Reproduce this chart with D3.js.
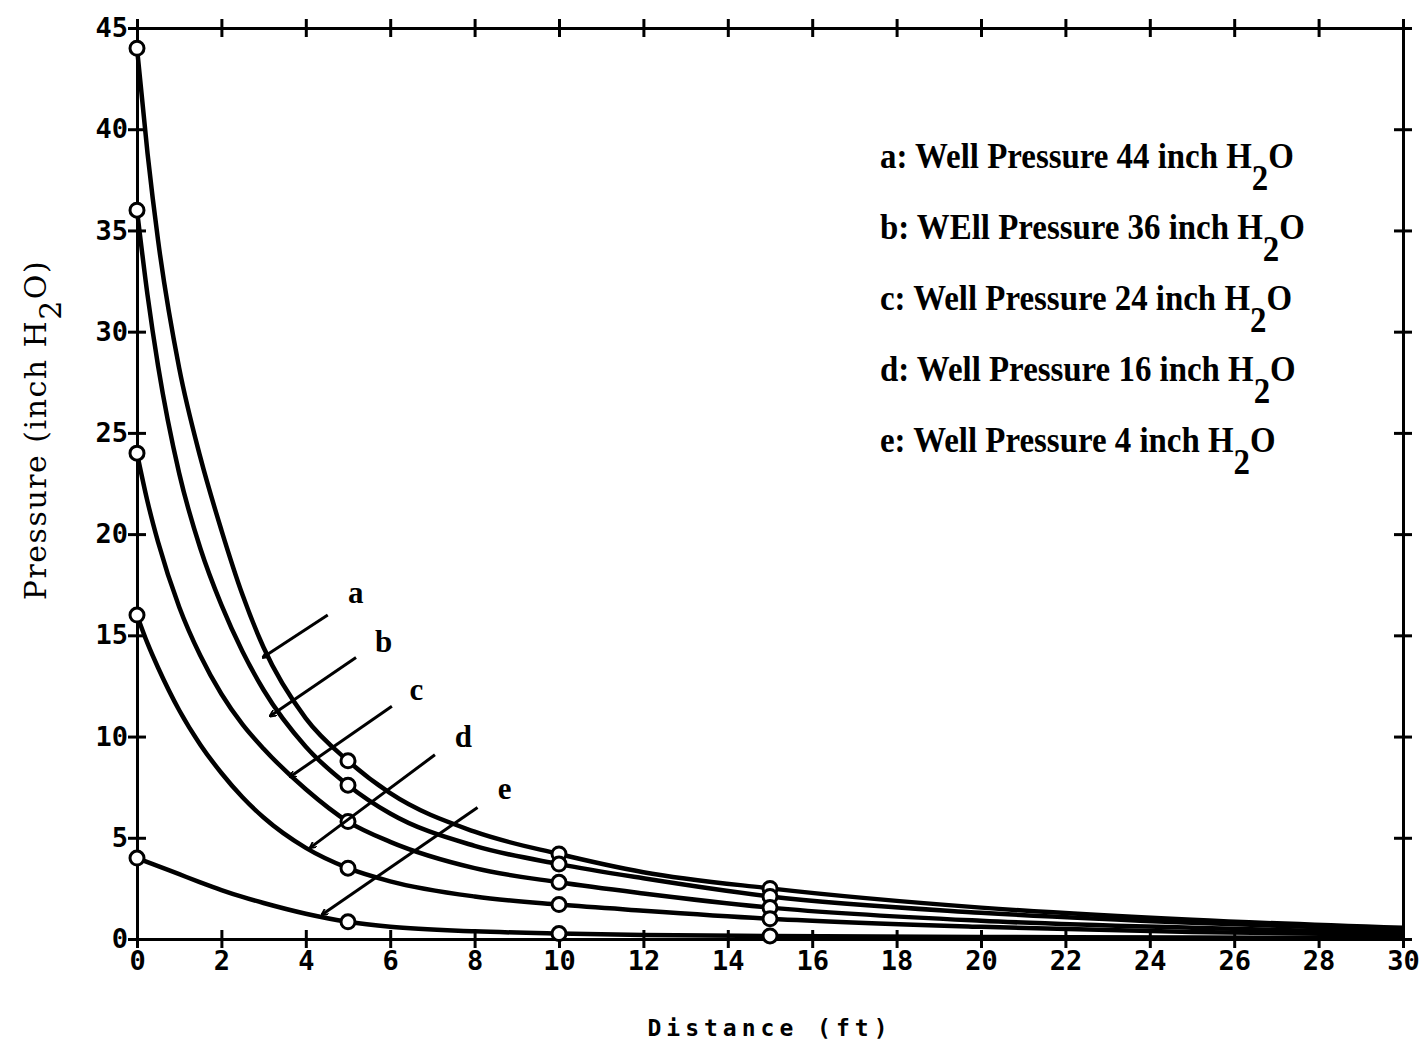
<!DOCTYPE html>
<html>
<head>
<meta charset="utf-8">
<script src="https://cdn.jsdelivr.net/npm/d3@7"></script>
<style>
  body { margin: 0; background: #fff; }
  .tick text { font-family: "DejaVu Sans Mono", monospace; font-weight: bold; font-size: 27px; fill: #000; }
</style>
</head>
<body>
<svg id="chart" width="1427" height="1042"></svg>
<script>
// Data: pressure (inch H2O) vs distance (ft)
const distance = [0, 0.25, 0.5, 1, 1.5, 2, 2.5, 3, 4, 5, 6, 8, 10, 12, 15, 20, 25, 30];
const curveA = [44, 38.8, 34.5, 28.2, 23.8, 20.2, 17.0, 14.4, 10.9, 8.8, 7.2, 5.3, 4.2, 3.3, 2.5, 1.55, 0.95, 0.55];
const curveB = [36, 31.8, 28.3, 23.0, 19.3, 16.5, 14.2, 12.3, 9.5, 7.6, 6.2, 4.6, 3.7, 3.0, 2.1, 1.3, 0.8, 0.45];
const curveC = [24, 21.6, 19.6, 16.4, 14.0, 12.1, 10.6, 9.4, 7.4, 5.8, 4.8, 3.5, 2.8, 2.25, 1.55, 0.9, 0.55, 0.3];
const curveD = [16, 14.6, 13.4, 11.3, 9.6, 8.2, 7.0, 6.0, 4.5, 3.5, 2.85, 2.1, 1.7, 1.4, 1.0, 0.6, 0.35, 0.2];
const curveE = [4, 3.8, 3.6, 3.2, 2.8, 2.42, 2.08, 1.78, 1.25, 0.85, 0.6, 0.38, 0.27, 0.2, 0.15, 0.1, 0.07, 0.05];
const seriesNames = ["a", "b", "c", "d", "e"];
const markerX = [0, 5, 10, 15];

const legendText = [
  "a: Well Pressure 44 inch H",
  "b: WEll Pressure 36 inch H",
  "c: Well Pressure 24 inch H",
  "d: Well Pressure 16 inch H",
  "e: Well Pressure 4 inch H"
];

const xTickLabels = [0, 2, 4, 6, 8, 10, 12, 14, 16, 18, 20, 22, 24, 26, 28, 30];
const yTickLabels = [0, 5, 10, 15, 20, 25, 30, 35, 40, 45];

// annotation arrows (data units): label letter, arrow start, arrow tip
const annoLabel = [[5.0, 16.6], [5.64, 14.2], [6.46, 11.8], [7.53, 9.5], [8.55, 6.9]];
const annoStart = [[4.52, 16.0], [5.19, 13.9], [6.04, 11.5], [7.06, 9.1], [8.07, 6.5]];
const annoTip = [[2.98, 13.9], [3.15, 11.0], [3.62, 8.0], [4.1, 4.5], [4.38, 1.2]];

const svg = d3.select("#chart");

const x = d3.scaleLinear().domain([0, 30]).range([137, 1403]);
const y = d3.scaleLinear().domain([0, 45]).range([939, 28]);

const allSeries = [curveA, curveB, curveC, curveD, curveE].map(function (vals, i) {
  return {name: seriesNames[i], points: distance.map(function (d, j) { return [d, vals[j]]; })};
});

// Axes, ticks crossing the frame
function crossTicks(g, horizontal) {
  g.selectAll(".tick line")
    .attr(horizontal ? "y1" : "x1", 9)
    .attr(horizontal ? "y2" : "x2", -9)
    .attr("stroke-width", 3);
  g.select(".domain").attr("stroke-width", 3);
}

svg.append("g")
  .attr("transform", "translate(0," + y(0) + ")")
  .call(d3.axisBottom(x).tickValues(xTickLabels).tickSize(8).tickPadding(4).tickSizeOuter(0))
  .call(g => crossTicks(g, true));

svg.append("g")
  .attr("transform", "translate(0," + y(45) + ")")
  .call(d3.axisTop(x).tickValues(xTickLabels).tickSize(8).tickFormat("").tickSizeOuter(0))
  .call(g => crossTicks(g, true));

svg.append("g")
  .attr("transform", "translate(" + x(0) + ",0)")
  .call(d3.axisLeft(y).tickValues(yTickLabels).tickSize(9).tickPadding(0).tickSizeOuter(0))
  .call(g => crossTicks(g, false));

svg.append("g")
  .attr("transform", "translate(" + x(30) + ",0)")
  .call(d3.axisRight(y).tickValues(yTickLabels).tickSize(9).tickFormat("").tickSizeOuter(0))
  .call(g => crossTicks(g, false));

// Curves
const line = d3.line()
  .x(d => x(d[0]))
  .y(d => y(d[1]))
  .curve(d3.curveMonotoneX);

svg.append("g")
  .selectAll("path")
  .data(allSeries)
  .enter()
  .append("path")
  .attr("d", d => line(d.points))
  .attr("fill", "none")
  .attr("stroke", "#000")
  .attr("stroke-width", 4.5);

// Open circle markers
svg.append("g")
  .selectAll("circle")
  .data(allSeries.flatMap(s => s.points.filter(p => markerX.includes(p[0]))))
  .enter()
  .append("circle")
  .attr("cx", d => x(d[0]))
  .attr("cy", d => y(d[1]))
  .attr("r", 7)
  .attr("fill", "#fff")
  .attr("stroke", "#000")
  .attr("stroke-width", 3);

// Arrow annotations
svg.append("defs").append("marker")
  .attr("id", "head")
  .attr("viewBox", "0 -5 10 10")
  .attr("refX", 9)
  .attr("refY", 0)
  .attr("markerWidth", 7)
  .attr("markerHeight", 7)
  .attr("markerUnits", "userSpaceOnUse")
  .attr("orient", "auto")
  .append("path")
  .attr("d", "M0,-5L10,0L0,5")
  .attr("fill", "none")
  .attr("stroke", "#000")
  .attr("stroke-width", 2.5);

const anno = svg.append("g");
seriesNames.forEach(function (name, i) {
  anno.append("line")
    .attr("x1", x(annoStart[i][0]))
    .attr("y1", y(annoStart[i][1]))
    .attr("x2", x(annoTip[i][0]))
    .attr("y2", y(annoTip[i][1]))
    .attr("stroke", "#000")
    .attr("stroke-width", 3)
    .attr("marker-end", "url(#head)");
  anno.append("text")
    .attr("x", x(annoLabel[i][0]))
    .attr("y", y(annoLabel[i][1]))
    .attr("font-family", "Liberation Serif, serif")
    .attr("font-weight", "bold")
    .attr("font-size", 31)
    .text(name);
});

// Legend
const legend = svg.append("g")
  .attr("font-family", "Liberation Serif, serif")
  .attr("font-weight", "bold")
  .attr("font-size", 35);

legendText.forEach(function (t, i) {
  const txt = legend.append("text")
    .attr("transform", "translate(880," + (168 + i * 71) + ") scale(0.94,1)");
  txt.append("tspan").text(t);
  txt.append("tspan").attr("dy", 22).text("2");
  txt.append("tspan").attr("dy", -22).text("O");
});

// Axis titles
svg.append("text")
  .attr("x", 770)
  .attr("y", 1036)
  .attr("text-anchor", "middle")
  .attr("font-family", "DejaVu Sans Mono, monospace")
  .attr("font-weight", "bold")
  .attr("font-size", 23)
  .attr("letter-spacing", 5)
  .text("Distance (ft)");

const yTitle = svg.append("text")
  .attr("transform", "translate(46,430) rotate(-90)")
  .attr("text-anchor", "middle")
  .attr("font-family", "DejaVu Serif, serif")
  .attr("font-size", 30)
  .attr("letter-spacing", 1.5);
yTitle.append("tspan").text("Pressure (inch H");
yTitle.append("tspan").attr("dy", 15).text("2");
yTitle.append("tspan").attr("dy", -15).text("O)");
</script>
</body>
</html>
